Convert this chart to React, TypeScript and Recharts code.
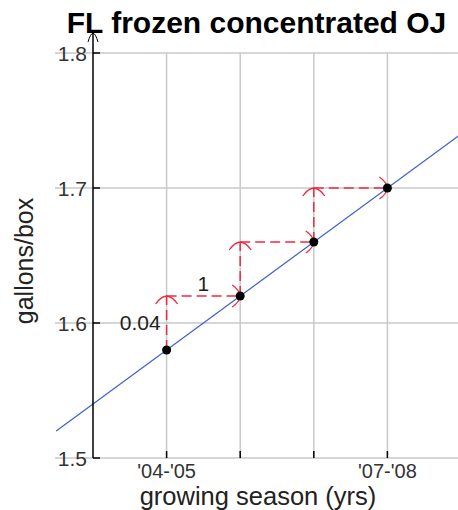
import React from 'react';
import { ComposedChart, XAxis, YAxis, ReferenceLine, Scatter } from 'recharts';

// ---- data ----
const seasons = [0, 1, 2, 3];
const seasonLabels = ["'04-'05", "'05-'06", "'06-'07", "'07-'08"];
const shownSeasonLabels = ["'04-'05", "'07-'08"];
const gallonsPerBox = [1.58, 1.62, 1.66, 1.7];
const yTicks = [1.5, 1.6, 1.7, 1.8];
const xDomain = [-1, 4];
const yDomain = [1.5, 1.8];
const fitSeasons = [-1.5, 4];
const fitValues = [1.52, 1.74];
const riseLabel = '0.04';
const runLabel = '1';
const chartTitle = 'FL frozen concentrated OJ';
const xTitle = 'growing season (yrs)';
const yTitle = 'gallons/box';

// ---- style ----
const FONT = '"Liberation Sans", Arial, Helvetica, sans-serif';
const RED = '#f2283c';
const GRID = '#c6c9cd';
const BLUE = '#3f5fcf';

const points = seasons.map((s, i) => ({ season: s, value: gallonsPerBox[i] }));

function headPath(tx: number, ty: number, dx: number, dy: number, back: number, half: number) {
  const len = Math.hypot(dx, dy) || 1;
  const ux = dx / len;
  const uy = dy / len;
  const nx = -uy;
  const ny = ux;
  const ax = tx - ux * back + nx * half;
  const ay = ty - uy * back + ny * half;
  const bx = tx - ux * back - nx * half;
  const by = ty - uy * back - ny * half;
  const cax = tx - ux * back * 0.1 + nx * half * 0.55;
  const cay = ty - uy * back * 0.1 + ny * half * 0.55;
  const cbx = tx - ux * back * 0.1 - nx * half * 0.55;
  const cby = ty - uy * back * 0.1 - ny * half * 0.55;
  return `M${ax},${ay} Q${cax},${cay} ${tx},${ty} Q${cbx},${cby} ${bx},${by}`;
}

const ArrowShape = (props: any) => {
  const { x1, y1, x2, y2 } = props;
  return (
    <g>
      <line x1={x1} y1={y1} x2={x2} y2={y2} stroke={RED} strokeWidth={1.5} strokeDasharray="10 5" />
      <path d={headPath(x2, y2, x2 - x1, y2 - y1, 8, 11)} fill="none" stroke={RED} strokeWidth={1.3} />
    </g>
  );
};

const HGridShape = (props: any) => {
  const { x1, y1, x2, y2 } = props;
  return (
    <line x1={Math.min(x1, x2) - 38} y1={y1} x2={Math.max(x1, x2)} y2={y2} stroke={GRID} strokeWidth={1.5} />
  );
};

const VGridShape = (props: any) => {
  const { x1, y1, x2, y2 } = props;
  return <line x1={x1} y1={y1} x2={x2} y2={y2} stroke={GRID} strokeWidth={1.5} />;
};

const YTickMark = (props: any) => {
  const { x1, x2, y1 } = props;
  const left = Math.min(x1, x2);
  return <line x1={left} x2={left + 7} y1={y1} y2={y1} stroke="#000" strokeWidth={1.5} />;
};

const XTickMark = (props: any) => {
  const { x1, y1, y2 } = props;
  const bottom = Math.max(y1, y2);
  return <line x1={x1} x2={x1} y1={bottom} y2={bottom - 7} stroke="#000" strokeWidth={1.5} />;
};

const YAxisLineShape = (props: any) => {
  const { x1, y1, y2 } = props;
  const bottom = Math.max(y1, y2);
  const top = Math.min(y1, y2) - 20;
  return (
    <g>
      <line x1={x1} y1={bottom} x2={x1} y2={top} stroke="#000" strokeWidth={1.5} />
      <path d={headPath(x1, top, 0, -1, 9, 5)} fill="none" stroke="#000" strokeWidth={1} />
    </g>
  );
};

const YTick = (props: any) => {
  const { x, y, payload } = props;
  return (
    <text x={x - 6} y={y} dy="0.36em" textAnchor="end" fontSize={21} fill="#333" fontFamily={FONT}>
      {String(payload.value)}
    </text>
  );
};

const XTick = (props: any) => {
  const { x, y, payload } = props;
  const label = seasonLabels[payload.value];
  if (!shownSeasonLabels.includes(label)) return <g />;
  return (
    <text x={x} y={y + 20} textAnchor="middle" fontSize={20} fill="#333" fontFamily={FONT}>
      {label}
    </text>
  );
};

const steps: { from: { x: number; y: number }; to: { x: number; y: number }; label?: string; pos: string }[] = [];
for (let i = 0; i < seasons.length - 1; i++) {
  steps.push({
    from: { x: seasons[i], y: gallonsPerBox[i] },
    to: { x: seasons[i], y: gallonsPerBox[i + 1] },
    label: i === 0 ? riseLabel : undefined,
    pos: 'left',
  });
  steps.push({
    from: { x: seasons[i], y: gallonsPerBox[i + 1] },
    to: { x: seasons[i + 1], y: gallonsPerBox[i + 1] },
    label: i === 0 ? runLabel : undefined,
    pos: 'top',
  });
}

export default function App() {
  return (
    <div
      style={{ position: 'fixed', left: 0, top: 0, width: 458, height: 510, overflow: 'hidden', background: '#fff' }}
    >
      <ComposedChart width={462} height={510} margin={{ top: 53, right: 1, left: 0, bottom: 0 }} data={points}>
        {seasons.map((s) => (
          <ReferenceLine key={'vg' + s} x={s} shape={VGridShape} />
        ))}
        {yTicks.map((t) => (
          <ReferenceLine key={'hg' + t} y={t} shape={HGridShape} />
        ))}
        {seasons.map((s) => (
          <ReferenceLine key={'xt' + s} x={s} shape={XTickMark} />
        ))}
        {yTicks.map((t) => (
          <ReferenceLine key={'yt' + t} y={t} shape={YTickMark} />
        ))}
        <ReferenceLine
          segment={[
            { x: fitSeasons[0], y: fitValues[0] },
            { x: fitSeasons[1], y: fitValues[1] },
          ]}
          ifOverflow="visible"
          stroke={BLUE}
          strokeWidth={1.2}
        />
        {steps.map((s, i) => (
          <ReferenceLine
            key={'s' + i}
            segment={[s.from, s.to]}
            shape={ArrowShape}
            label={
              s.label
                ? {
                    value: s.label,
                    position: s.pos as any,
                    offset: s.pos === 'left' ? 6 : 5,
                    fontSize: 21,
                    fill: '#222',
                    fontFamily: FONT,
                  }
                : undefined
            }
          />
        ))}
        <ReferenceLine x={xDomain[0]} shape={YAxisLineShape} />
        <Scatter
          dataKey="value"
          data={points}
          isAnimationActive={false}
          shape={(p: any) => <circle cx={p.cx} cy={p.cy} r={4.5} fill="#000" />}
        />
        <XAxis
          type="number"
          dataKey="season"
          domain={xDomain}
          ticks={seasons}
          interval={0}
          height={52}
          axisLine={false}
          tickLine={false}
          tickSize={0}
          tickMargin={0}
          tick={XTick}
          allowDataOverflow
        />
        <YAxis
          type="number"
          dataKey="value"
          domain={yDomain}
          ticks={yTicks}
          interval={0}
          width={93}
          axisLine={false}
          tickLine={false}
          tickSize={0}
          tickMargin={0}
          tick={YTick}
          allowDataOverflow
        />
      </ComposedChart>
      <svg
        width={458}
        height={510}
        style={{ position: 'absolute', left: 0, top: 0, pointerEvents: 'none' }}
      >
        <text x={256.5} y={32.5} textAnchor="middle" fontSize={30} fontWeight="bold" fill="#000" fontFamily={FONT}>
          {chartTitle}
        </text>
        <text
          x={33}
          y={261}
          transform="rotate(-90 33 261)"
          textAnchor="middle"
          fontSize={25}
          fill="#222"
          fontFamily={FONT}
        >
          {yTitle}
        </text>
        <text x={258} y={505} textAnchor="middle" fontSize={25.5} fill="#222" fontFamily={FONT}>
          {xTitle}
        </text>
      </svg>
    </div>
  );
}
